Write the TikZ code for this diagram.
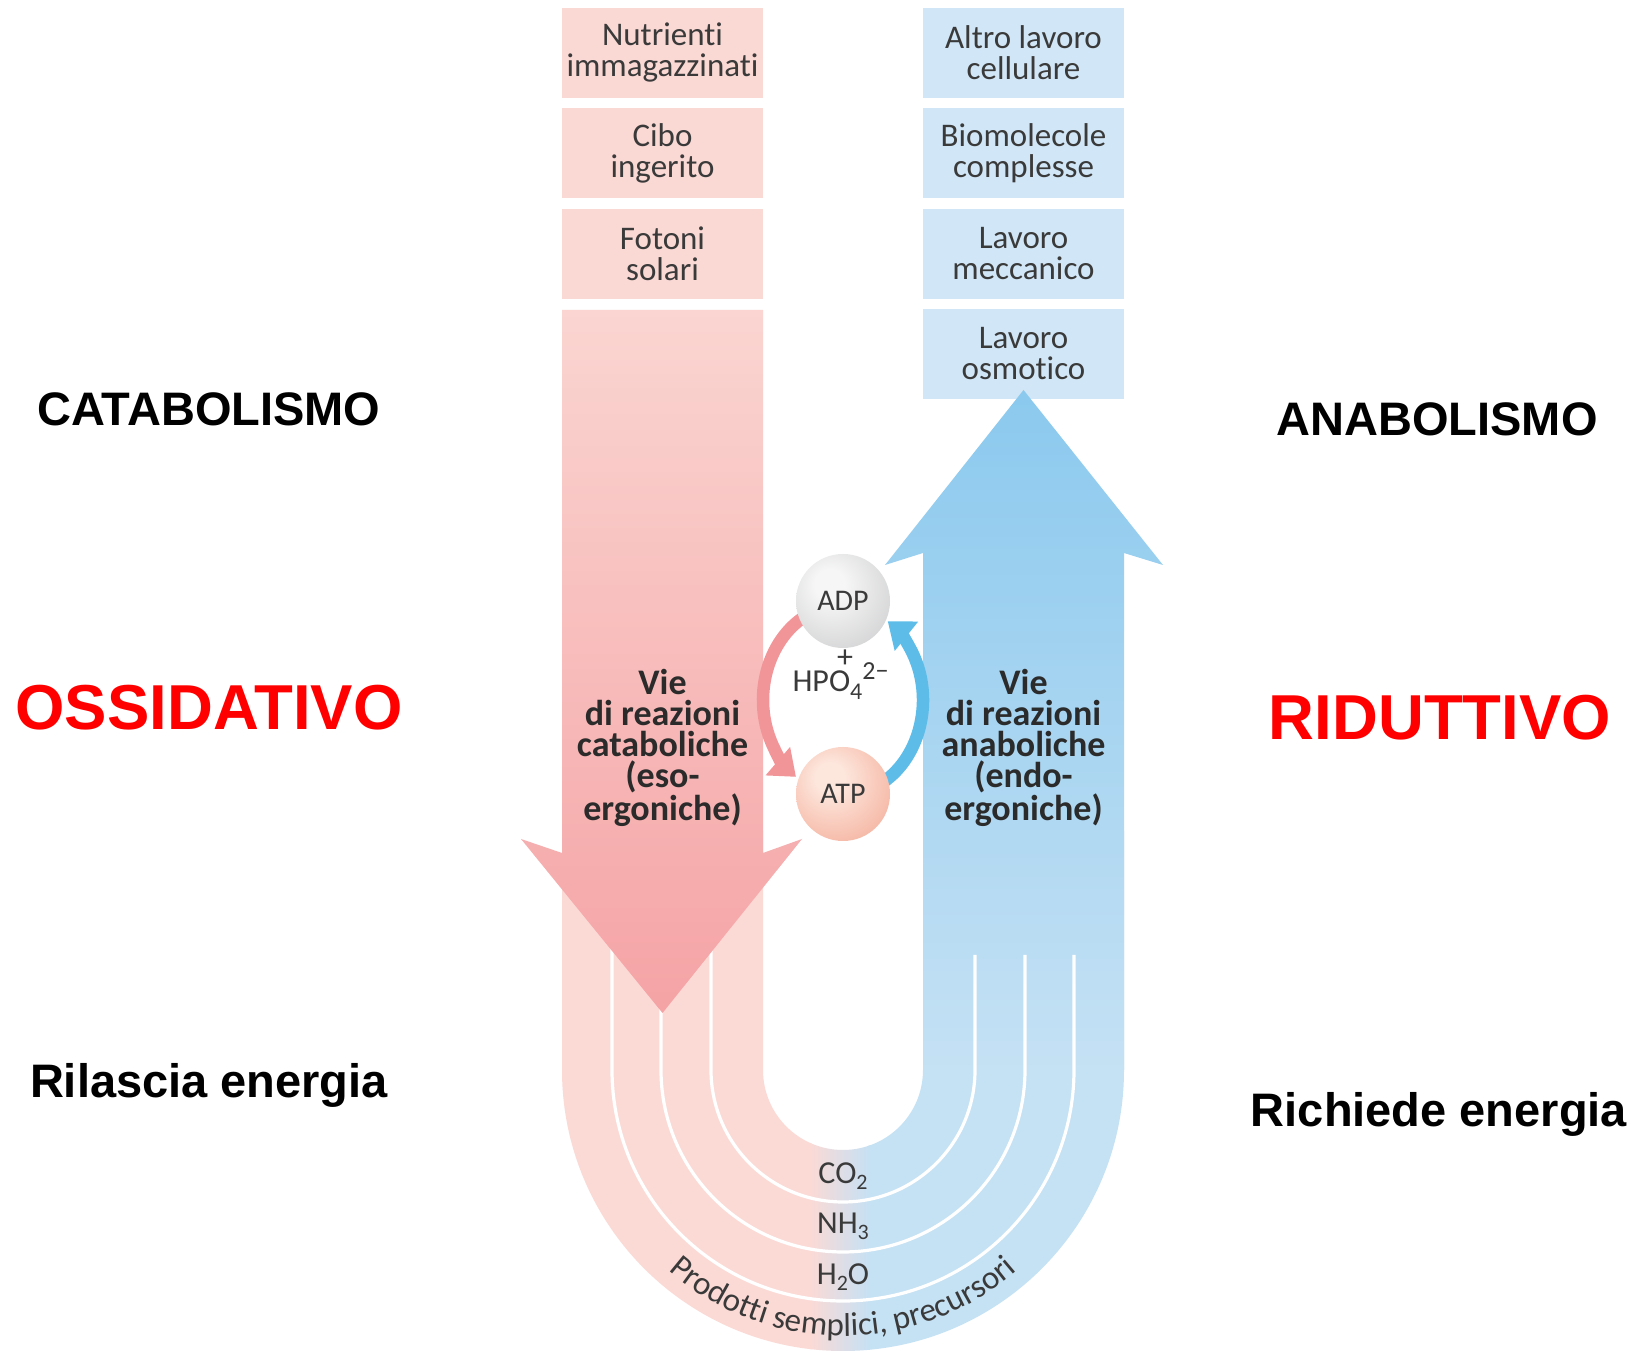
\documentclass[tikz,border=0pt]{standalone}
\usepackage{fontspec}
\setmainfont{Liberation Sans}
\newfontfamily\lf{Carlito}[Ligatures={NoCommon}]
\usetikzlibrary{arrows.meta,decorations.text}
\definecolor{boxpink}{HTML}{FAD8D4}
\definecolor{boxblue}{HTML}{D1E6F6}
\definecolor{upink}{HTML}{FBDAD6}
\definecolor{ublue}{HTML}{C5E1F4}
\definecolor{arrpinkA}{HTML}{FAD5D1}
\definecolor{arrpinkB}{HTML}{F5A3A5}
\definecolor{arrblueA}{HTML}{8BC9EE}
\definecolor{arrblueB}{HTML}{C5E1F4}
\definecolor{cycpink}{HTML}{F29598}
\definecolor{cycblue}{HTML}{5DBDE8}
\definecolor{txt}{HTML}{3A3A3A}
\definecolor{boldtxt}{HTML}{2B2B2B}
\definecolor{adpA}{HTML}{F6F6F6}
\definecolor{adpB}{HTML}{B5B6B8}
\definecolor{atpA}{HTML}{FDE6DC}
\definecolor{atpB}{HTML}{EE8A70}
\definecolor{lblred}{HTML}{FF0000}
\pgfdeclareradialshading{adpsh}{\pgfpoint{-8bp}{10bp}}{color(0bp)=(adpA); color(8bp)=(adpA); color(58bp)=(adpB); color(70bp)=(adpB)}
\pgfdeclareradialshading{atpsh}{\pgfpoint{-8bp}{10bp}}{color(0bp)=(atpA); color(8bp)=(atpA); color(58bp)=(atpB); color(70bp)=(atpB)}
\newcommand{\chsub}[1]{\raisebox{-6pt}{\fontsize{22}{22}\selectfont #1}}
\tikzset{
  pbox/.style={fill=boxpink, minimum width=201pt, minimum height=90pt, inner sep=0pt, align=center, font=\lf\fontsize{33}{31}\selectfont, text=txt},
  bbox/.style={pbox, fill=boxblue},
  sidelbl/.style={font=\bfseries\fontsize{47}{50}\selectfont, anchor=base, text=black},
  redlbl/.style={font=\bfseries\fontsize{63.5}{64}\selectfont, anchor=base, text=lblred},
  viet/.style={font=\lf\bfseries\fontsize{36}{31}\selectfont, text=boldtxt, align=center},
  chem/.style={font=\lf\fontsize{32}{32}\selectfont, text=txt, anchor=base},
  ball/.style={circle, minimum size=94pt, inner sep=0pt, font=\lf\fontsize{30}{30}\selectfont, text=txt},
  wline/.style={white, line width=3.2pt},
  cyc/.style={line width=12.5pt, -{Triangle[length=24pt,width=36pt]}}
}
\begin{document}
\begin{tikzpicture}[x=1pt,y=1pt]
\useasboundingbox (0,0) rectangle (1638,1351);
\fill[white] (0,0) rectangle (1638,1351);
% boxes
\node[pbox] (p1) at (662.5,1298) {Nutrienti\\immagazzinati};
\node[pbox] (p2) at (662.5,1198) {Cibo\\ingerito};
\node[pbox] (p3) at (662.5,1097) {Fotoni\\solari};
\node[bbox] (b1) at (1023.5,1298) {Altro lavoro\\cellulare};
\node[bbox] (b2) at (1023.5,1198) {Biomolecole\\complesse};
\node[bbox] (b3) at (1023.5,1097) {Lavoro\\meccanico};
\node[bbox] (b4) at (1023.5,997) {Lavoro\\osmotico};
% U band
\begin{scope}
\path[clip] (562,520) -- (562,281) arc[start angle=180,end angle=360,radius=281pt] -- (1124,520) -- (923,520) -- (923,281) arc[start angle=0,end angle=-180,radius=80pt] -- (763,281) -- (763,520) -- cycle;
\fill[upink] (500,-10) rectangle (812,600);
\fill[ublue] (868,-10) rectangle (1200,600);
\shade[left color=upink, right color=ublue] (810,-10) rectangle (870,600);
\end{scope}
% blue arrow
\shade[top color=arrblueA, bottom color=arrblueB] (923,281) -- (1124,281) -- (1124,798) -- (1163,786) -- (1023.5,961) -- (885,786) -- (923,798) -- cycle;
% white lines
\draw[wline] (612,451) -- (612,281) arc[start angle=180,end angle=360,radius=231pt] -- (1074,396);
\draw[wline] (661,451) -- (661,281) arc[start angle=180,end angle=360,radius=182pt] -- (1025,396);
\draw[wline] (711,451) -- (711,281) arc[start angle=180,end angle=360,radius=132pt] -- (975,396);
% pink arrow
\shade[top color=arrpinkA, bottom color=arrpinkB] (562,1041) -- (763,1041) -- (763,498) -- (802,512) -- (662.5,338) -- (521,512) -- (562,498) -- cycle;
% cycle
\coordinate (ring) at (843,651);
\draw[cyc, cycpink] ([shift={(ring)}]115:80pt and 95pt) arc[start angle=115, end angle=234, x radius=80pt, y radius=95pt];
\draw[cyc, cycblue] ([shift={(ring)}]-60:80pt and 95pt) arc[start angle=-60, end angle=56, x radius=80pt, y radius=95pt];
\node[ball, shade, shading=adpsh] (adp) at (843,750) {ADP};
\node[ball, shade, shading=atpsh] (atp) at (843,557) {ATP};
\node[chem, anchor=center] (plus) at (845,692) {+};
\node[chem, anchor=base west] (hpo) at (789,659) {HPO\raisebox{-8pt}{\fontsize{24}{24}\selectfont 4}\raisebox{12pt}{\fontsize{26}{26}\selectfont 2−}};
% pathway texts
\node[viet] (cata) at (662.5,603) {Vie\\di reazioni\\cataboliche\\(eso-\\ergoniche)};
\node[viet] (anab) at (1023.5,603) {Vie\\di reazioni\\anaboliche\\(endo-\\ergoniche)};
% products
\node[chem] (co2) at (843,167) {CO\chsub{2}};
\node[chem] (nh3) at (843,117) {NH\chsub{3}};
\node[chem] (h2o) at (843,66) {H\chsub{2}O};
\path[decorate, decoration={text along path, text align=center, text color=txt, text={|\lf\fontsize{33}{33}\selectfont|Prodotti semplici, precursori}}] ([shift={(843,281)}]222:266pt) arc[start angle=222, end angle=318, radius=266pt];
% side labels
\node[sidelbl] (cat) at (209,925) {CATABOLISMO};
\node[sidelbl] (ana) at (1437,915) {ANABOLISMO};
\node[redlbl] (oss) at (209,621) {OSSIDATIVO};
\node[redlbl] (rid) at (1440,611) {RIDUTTIVO};
\node[sidelbl] (ril) at (209,253) {Rilascia energia};
\node[sidelbl] (ric) at (1439,224) {Richiede energia};
\end{tikzpicture}
\end{document}
